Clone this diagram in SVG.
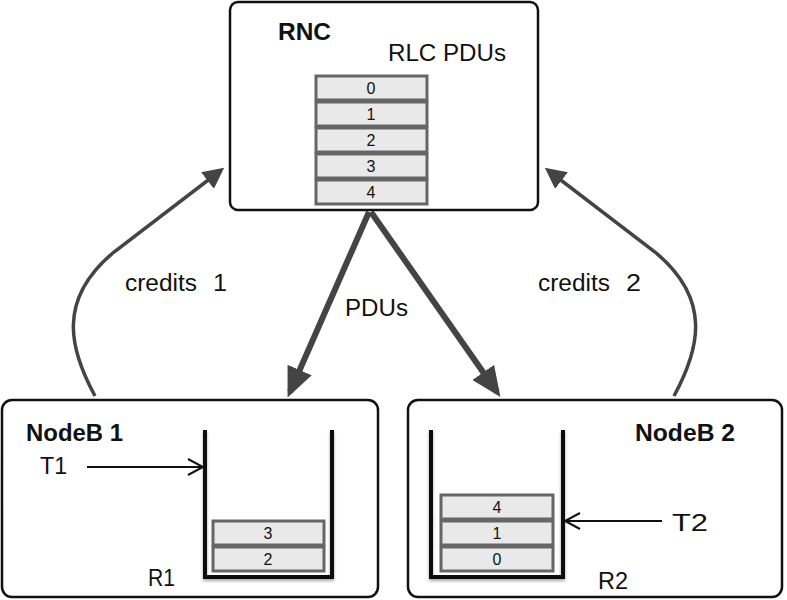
<svg xmlns="http://www.w3.org/2000/svg" width="787" height="600" viewBox="0 0 787 600">
<style>
.box{fill:#fff;stroke:#111;stroke-width:2.5}
.cell{fill:#e9e9e9;stroke:#666;stroke-width:3}
.d{font-family:"Liberation Sans",Arial,sans-serif;font-size:16px;fill:#111;text-anchor:middle}
.t{font-family:"Liberation Sans",Arial,sans-serif;font-size:23px;fill:#111}
.b{font-family:"Liberation Sans",Arial,sans-serif;font-size:23px;font-weight:bold;fill:#111}
.wall{fill:none;stroke:#111;stroke-width:4;stroke-linecap:butt}
.credit{fill:none;stroke:#444;stroke-width:3.5}
.pdu{fill:none;stroke:#444;stroke-width:6}
.thin{fill:none;stroke:#111;stroke-width:2}
</style>
<defs>
<marker id="ah" markerWidth="6" markerHeight="6" refX="4.5" refY="3" orient="auto" markerUnits="strokeWidth"><path d="M0,0 L6,3 L0,6 Z" fill="#444"/></marker>
<marker id="ahp" markerWidth="5" markerHeight="5" refX="4" refY="2.2" orient="auto" markerUnits="strokeWidth"><path d="M0,0 L5,2.2 L0,4.4 Z" fill="#444"/></marker>
<marker id="open" markerWidth="20" markerHeight="20" refX="17" refY="10" orient="auto" markerUnits="userSpaceOnUse"><path d="M2,2 L17,10 L2,18" fill="none" stroke="#111" stroke-width="2"/></marker>
<filter id="sh" x="-10%" y="-10%" width="120%" height="130%"><feDropShadow dx="0" dy="2" stdDeviation="1.5" flood-color="#000" flood-opacity="0.35"/></filter>
</defs>

<g id="connectors">
<path class="credit" d="M95,396 C70,350 56,300 114,252 L220,171" marker-end="url(#ah)"/>
<path class="credit" d="M674,396 C699,350 713,300 655,252 L549,171" marker-end="url(#ah)"/>
<path class="pdu" d="M369,212 L290,392" marker-end="url(#ahp)"/>
<path class="pdu" d="M371,212 L497,392" marker-end="url(#ahp)"/>
<text class="t" x="125" y="291" textLength="72" lengthAdjust="spacingAndGlyphs">credits</text>
<text class="t" x="213" y="291" textLength="14" lengthAdjust="spacingAndGlyphs">1</text>
<text class="t" x="538" y="291" textLength="72" lengthAdjust="spacingAndGlyphs">credits</text>
<text class="t" x="626" y="291" textLength="15" lengthAdjust="spacingAndGlyphs">2</text>
<text class="t" x="345" y="316" textLength="63" lengthAdjust="spacingAndGlyphs">PDUs</text>
</g>

<g id="rnc">
<rect class="box" x="230" y="2" width="308" height="208" rx="8"/>
<text class="b" x="278" y="40" textLength="53" lengthAdjust="spacingAndGlyphs">RNC</text>
<text class="t" x="388" y="61" textLength="118" lengthAdjust="spacingAndGlyphs">RLC PDUs</text>
<rect class="cell" x="316" y="76" width="111" height="24"/>
<rect class="cell" x="316" y="102" width="111" height="24"/>
<rect class="cell" x="316" y="128" width="111" height="24"/>
<rect class="cell" x="316" y="154" width="111" height="24"/>
<rect class="cell" x="316" y="180" width="111" height="24"/>
<text class="d" x="371" y="94">0</text>
<text class="d" x="371" y="120">1</text>
<text class="d" x="371" y="146">2</text>
<text class="d" x="371" y="172">3</text>
<text class="d" x="371" y="198">4</text>
</g>

<g id="nodeb1">
<rect class="box" x="2" y="400" width="376" height="197" rx="10"/>
<text class="b" x="26" y="441" textLength="97" lengthAdjust="spacingAndGlyphs">NodeB 1</text>
<text class="t" x="40" y="474" textLength="27" lengthAdjust="spacingAndGlyphs">T1</text>
<line class="thin" x1="87" y1="467" x2="203" y2="467" marker-end="url(#open)"/>
<rect class="cell" x="213" y="521" width="111" height="24"/>
<rect class="cell" x="213" y="547" width="111" height="24"/>
<text class="d" x="268" y="539">3</text>
<text class="d" x="268" y="565">2</text>
<path class="wall" filter="url(#sh)" d="M205,430 L205,577 L332,577 L332,430"/>
<text class="t" x="148" y="586" textLength="27" lengthAdjust="spacingAndGlyphs">R1</text>
</g>

<g id="nodeb2">
<rect class="box" x="408" y="400" width="374" height="197" rx="10"/>
<text class="b" x="635" y="441" textLength="100" lengthAdjust="spacingAndGlyphs">NodeB 2</text>
<rect class="cell" x="441" y="495" width="112" height="24"/>
<rect class="cell" x="441" y="521" width="112" height="24"/>
<rect class="cell" x="441" y="547" width="112" height="24"/>
<text class="d" x="497" y="513">4</text>
<text class="d" x="497" y="539">1</text>
<text class="d" x="497" y="565">0</text>
<path class="wall" filter="url(#sh)" d="M431,430 L431,577 L563,577 L563,430"/>
<line class="thin" x1="662" y1="521" x2="565" y2="521" marker-end="url(#open)"/>
<text class="t" x="672" y="531" textLength="36" lengthAdjust="spacingAndGlyphs">T2</text>
<text class="t" x="598" y="589" textLength="30" lengthAdjust="spacingAndGlyphs">R2</text>
</g>
</svg>
